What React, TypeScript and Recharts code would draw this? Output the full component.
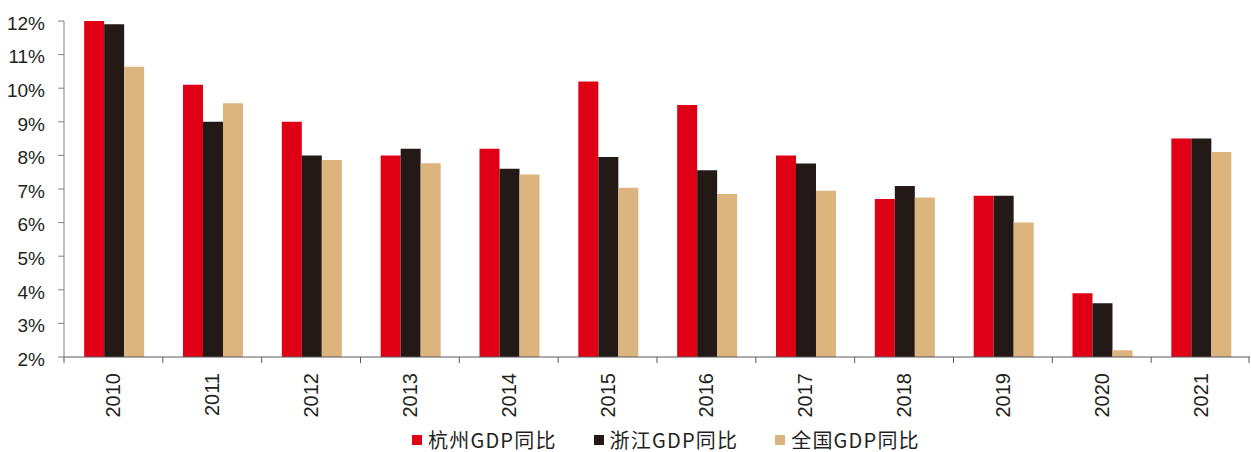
import React from 'react';
import { BarChart, Bar, XAxis, YAxis } from 'recharts';

const years = ['2010', '2011', '2012', '2013', '2014', '2015', '2016', '2017', '2018', '2019', '2020', '2021'];
const hangzhou = [12.0, 10.1, 9.0, 8.0, 8.2, 10.2, 9.5, 8.0, 6.7, 6.8, 3.9, 8.5];
const zhejiang = [11.9, 9.0, 8.0, 8.2, 7.6, 7.95, 7.56, 7.76, 7.09, 6.8, 3.6, 8.5];
const national = [10.64, 9.55, 7.86, 7.77, 7.43, 7.04, 6.85, 6.95, 6.75, 6.0, 2.2, 8.1];
const yTicks = [2, 3, 4, 5, 6, 7, 8, 9, 10, 11, 12];

const series = [
  { key: 'hangzhou', name: '杭州GDP同比', color: '#e00016' },
  { key: 'zhejiang', name: '浙江GDP同比', color: '#231916' },
  { key: 'national', name: '全国GDP同比', color: '#dbb47e' },
];

const data = years.map((year, i) => ({
  year,
  hangzhou: hangzhou[i],
  zhejiang: zhejiang[i],
  national: national[i],
}));

const W = 1251;
const H = 452;
const margin = { top: 21, right: 1, left: 0, bottom: 35 };
const yAxisWidth = 64;
const xAxisHeight = 60;
const band = (W - margin.left - margin.right - yAxisWidth) / years.length;

// category labels rotated upright, with tick marks on the band boundaries
const YearTick = (props: any) => {
  const { x, y, payload, index } = props;
  const last = index === years.length - 1;
  return (
    <g>
      <line x1={x - band / 2} x2={x - band / 2} y1={y} y2={y + 6} stroke="#595959" />
      {last && <line x1={x + band / 2 - 1} x2={x + band / 2 - 1} y1={y} y2={y + 6} stroke="#595959" />}
      <text
        x={x}
        y={y + 16}
        transform={`rotate(-90, ${x}, ${y + 16})`}
        textAnchor="end"
        dominantBaseline="central"
        fill="#231f20"
        fontSize={20}
        fontFamily="'Liberation Sans', Arial, sans-serif"
      >
        {payload.value}
      </text>
    </g>
  );
};

export default function App() {
  return (
    <div style={{ position: 'absolute', left: 0, top: 0, width: W, height: H, background: '#fff' }}>
      <BarChart width={W} height={H} data={data} margin={margin} barCategoryGap="20.4%" barGap={0}>
        <XAxis
          dataKey="year"
          height={xAxisHeight}
          axisLine={{ stroke: '#595959' }}
          tickLine={false}
          tickSize={0}
          tickMargin={0}
          interval={0}
          tick={<YearTick />}
        />
        <YAxis
          width={yAxisWidth}
          domain={[2, 12]}
          ticks={yTicks}
          interval={0}
          allowDataOverflow
          axisLine={{ stroke: '#808080' }}
          tickLine={{ stroke: '#808080' }}
          tickSize={6}
          tickMargin={13}
          tickFormatter={(v: number) => `${v}%`}
          tick={{ fill: '#231f20', fontSize: 19, fontFamily: "'Liberation Sans', Arial, sans-serif", dy: 2 }}
        />
        {series.map((s) => (
          <Bar key={s.key} dataKey={s.key} name={s.name} fill={s.color} isAnimationActive={false} />
        ))}
      </BarChart>
      {/* legend row under the year labels */}
      <div
        style={{
          position: 'absolute',
          top: 428,
          left: 412,
          height: 24,
          display: 'flex',
          alignItems: 'center',
          fontFamily: "'Noto Sans CJK SC', sans-serif",
          fontSize: 20,
          letterSpacing: 1.2,
          color: '#231f20',
          whiteSpace: 'nowrap',
        }}
      >
        {series.map((s) => (
          <div key={s.key} style={{ display: 'flex', alignItems: 'center', marginRight: 37 }}>
            <span style={{ width: 10, height: 10, background: s.color, marginRight: 6, display: 'inline-block' }} />
            <span style={{ lineHeight: '24px' }}>{s.name}</span>
          </div>
        ))}
      </div>
    </div>
  );
}
